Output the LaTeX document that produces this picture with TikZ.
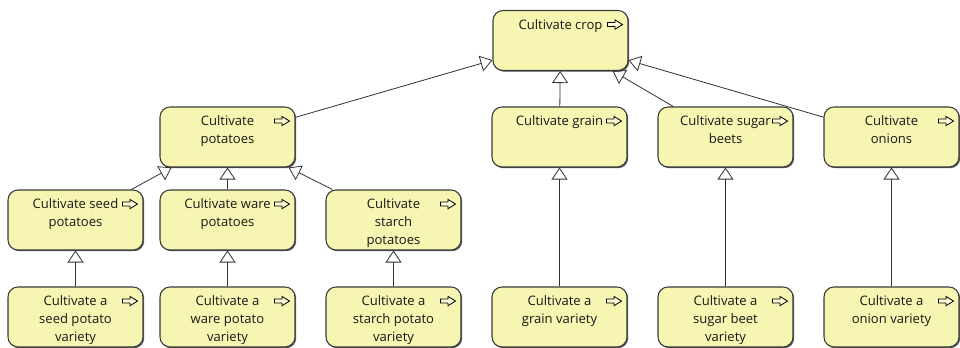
\documentclass[tikz,border=0pt]{standalone}
\usepackage{fontspec}
\setmainfont{Open Sans}
\usetikzlibrary{arrows.meta,shadows}

\definecolor{procfill}{RGB}{246,245,178}
\definecolor{procline}{RGB}{58,58,58}
\definecolor{linkline}{RGB}{50,50,50}

\tikzset{
  proc/.style={draw=procline, line width=0.8pt, fill=procfill,
    rounded corners=7.5pt, minimum width=101.25pt, minimum height=45pt,
    inner sep=0pt,
    general shadow={fill=black!65, shadow xshift=0.9pt, shadow yshift=-0.9pt}},
  ptext/.style={anchor=north, align=center, inner sep=0pt, text=black!90,
    font=\fontsize{9.8}{13.2}\selectfont},
  spec/.style={draw=linkline, line width=0.6pt,
    -{Triangle[open, length=9pt, width=12pt]}},
  procicon/.pic={
    \draw[line width=0.6pt, fill=white!40!procfill, line join=miter]
      (-21,12.6) -- (-13.5,12.6) -- (-13.5,10) -- (-6,14.6)
      -- (-13.5,19.2) -- (-13.5,16.6) -- (-21,16.6) -- cycle;
  }
}

\begin{document}
\begin{tikzpicture}[x=0.75pt, y=-0.75pt]
  \fill[white] (0,0) rectangle (960,348);

  % top level
  \node[proc] (crop) at (560.5,40.5) {};

  % second level
  \node[proc] (pot)    at (227.5,137) {};
  \node[proc] (grain)  at (559.5,137) {};
  \node[proc] (sugar)  at (725.5,137) {};
  \node[proc] (onion)  at (891.5,137) {};

  % potato kinds
  \node[proc] (seed)   at (75.5,220) {};
  \node[proc] (ware)   at (227.5,220) {};
  \node[proc] (starch) at (393.5,220) {};

  % varieties
  \node[proc] (vseed)   at (75.5,317) {};
  \node[proc] (vware)   at (227.5,317) {};
  \node[proc] (vstarch) at (393.5,317) {};
  \node[proc] (vgrain)  at (559.5,317) {};
  \node[proc] (vsugar)  at (725.5,317) {};
  \node[proc] (vonion)  at (891.5,317) {};

  % process icons
  \foreach \n in {crop,pot,grain,sugar,onion,seed,ware,starch,
                  vseed,vware,vstarch,vgrain,vsugar,vonion}
    \pic at (\n.north east) {procicon};

  % labels, hanging from just below the top edge
  \node[ptext] (crop-l)    at ([yshift=-7pt]crop.north)    {Cultivate crop};
  \node[ptext] (pot-l)     at ([yshift=-7pt]pot.north)     {Cultivate\\potatoes};
  \node[ptext] (grain-l)   at ([yshift=-7pt]grain.north)   {Cultivate grain};
  \node[ptext] (sugar-l)   at ([yshift=-7pt]sugar.north)   {Cultivate sugar\\beets};
  \node[ptext] (onion-l)   at ([yshift=-7pt]onion.north)   {Cultivate\\onions};
  \node[ptext] (seed-l)    at ([yshift=-7pt]seed.north)    {Cultivate seed\\potatoes};
  \node[ptext] (ware-l)    at ([yshift=-7pt]ware.north)    {Cultivate ware\\potatoes};
  \node[ptext] (starch-l)  at ([yshift=-7pt]starch.north)  {Cultivate\\starch\\potatoes};
  \node[ptext] (vseed-l)   at ([yshift=-7pt]vseed.north)   {Cultivate a\\seed potato\\variety};
  \node[ptext] (vware-l)   at ([yshift=-7pt]vware.north)   {Cultivate a\\ware potato\\variety};
  \node[ptext] (vstarch-l) at ([yshift=-7pt]vstarch.north) {Cultivate a\\starch potato\\variety};
  \node[ptext] (vgrain-l)  at ([yshift=-7pt]vgrain.north)  {Cultivate a\\grain variety};
  \node[ptext] (vsugar-l)  at ([yshift=-7pt]vsugar.north)  {Cultivate a\\sugar beet\\variety};
  \node[ptext] (vonion-l)  at ([yshift=-7pt]vonion.north)  {Cultivate a\\onion variety};

  % specialisation links
  \draw[spec] (pot)    -- (crop);
  \draw[spec] (grain)  -- (crop);
  \draw[spec] (sugar)  -- (crop);
  \draw[spec] (onion)  -- (crop);
  \draw[spec] (seed)   -- (pot);
  \draw[spec] (ware)   -- (pot);
  \draw[spec] (starch) -- (pot);
  \draw[spec] (vseed)   -- (seed);
  \draw[spec] (vware)   -- (ware);
  \draw[spec] (vstarch) -- (starch);
  \draw[spec] (vgrain)  -- (grain);
  \draw[spec] (vsugar)  -- (sugar);
  \draw[spec] (vonion)  -- (onion);

  \pgfresetboundingbox
  \useasboundingbox (0,0) rectangle (960,348);
\end{tikzpicture}
\end{document}
